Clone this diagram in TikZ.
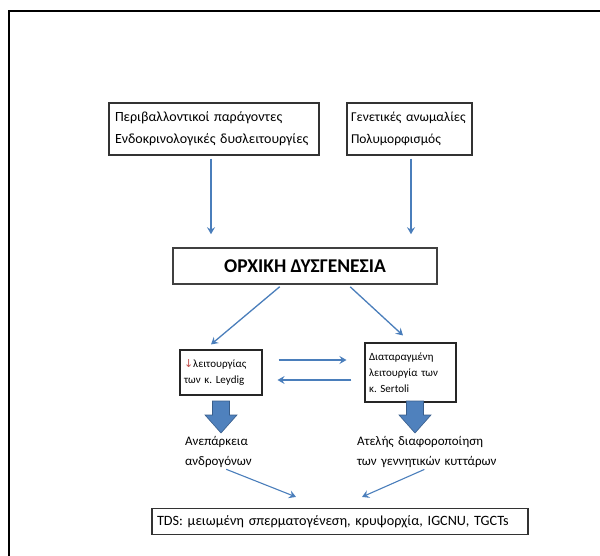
\documentclass[tikz,border=0pt]{standalone}
\usepackage{fontspec}
\setmainfont{Carlito}
\newfontfamily\symfont{DejaVu Sans}
\usetikzlibrary{arrows.meta}
\definecolor{officeblue}{RGB}{74,126,187}
\definecolor{arrowfill}{RGB}{79,129,189}
\definecolor{arrowedge}{RGB}{56,93,138}
\definecolor{downred}{RGB}{192,80,77}
\frenchspacing

\begin{document}
\begin{tikzpicture}[x=1pt, y=-1pt, >={Stealth[length=7pt,width=8pt,inset=2.5pt]},
  textbox/.style={draw=black!80, line width=1.1pt, inner sep=6pt, align=left,
    font=\fontsize{14}{22}\selectfont},
  mainbox/.style={draw=black!75, line width=1.6pt, inner sep=4pt,
    font=\fontsize{19.5}{21}\selectfont\bfseries},
  smallbox/.style={draw=black!85, line width=1.1pt, inner sep=4pt, align=left,
    font=\fontsize{11}{16}\selectfont},
  plaintext/.style={inner sep=0pt, align=left, font=\fontsize{13}{20}\selectfont},
  flowthick/.style={->, draw=officeblue, line width=1.8pt},
  flowmid/.style={->, draw=officeblue, line width=1.3pt},
  flowthin/.style={->, draw=officeblue, line width=1.1pt},
  blockarrow/.style={fill=arrowfill, draw=arrowedge, line width=0.6pt},
  frame/.style={draw=black, line width=2.5pt}]
\useasboundingbox (0,0) rectangle (600,556);
\draw[frame] (9,556) -- (9,11) -- (600,11);
% boxes
\node[textbox, text width=198pt, minimum height=52pt] (env) at (214,129)
  {Περιβαλλοντικοί παράγοντες\\Ενδοκρινολογικές δυσλειτουργίες};
\node[textbox, inner sep=4pt, text width=117pt, minimum height=52pt,
  font=\fontsize{13.5}{22}\selectfont] (gen) at (409.5,129)
  {Γενετικές ανωμαλίες\\Πολυμορφισμός};
\node[mainbox, minimum width=264pt, minimum height=36pt] (dys) at (305,266)
  {ΟΡΧΙΚΗ ΔΥΣΓΕΝΕΣΙΑ};
\node[smallbox, text width=74pt, minimum height=45pt] (ley) at (221,372.5)
  {{\symfont\color{downred}↓}λειτουργίας\\των κ. Leydig};
\node[smallbox, text width=83pt, minimum height=59pt] (ser) at (410.5,372.5)
  {Διαταραγμένη\\λειτουργία των\\κ. Sertoli};
\node[plaintext, text width=75pt] (andr) at (222.5,452)
  {Ανεπάρκεια\\ανδρογόνων};
\node[plaintext, text width=140pt] (germ) at (427,452)
  {Ατελής διαφοροποίηση\\των γεννητικών κυττάρων};
\node[textbox, text width=366pt, minimum height=26pt, inner sep=5pt,
  font=\fontsize{14.2}{16}\selectfont] (tds) at (340,521.5)
  {TDS: μειωμένη σπερματογένεση, κρυψορχία, IGCNU, TGCTs};
% arrows
\draw[flowthick, shorten <=3pt, shorten >=13pt] ([xshift=-3pt]env.south) -- ([xshift=-3pt]env.south |- dys.north);
\draw[flowthick, shorten <=3pt, shorten >=13pt] ([xshift=1.5pt]gen.south) -- ([xshift=1.5pt]gen.south |- dys.north);
\draw[flowmid, shorten <=3pt] ([xshift=-23pt]dys.south) -- ([xshift=-10pt,yshift=5pt]ley.north);
\draw[flowmid, shorten <=3pt] ([xshift=43pt]dys.south) -- ([xshift=-7.5pt,yshift=7pt]ser.north);
\draw[flowmid, shorten <=16pt, shorten >=18pt] ([yshift=12.5pt]ley.east) -- ([yshift=12.5pt]ley.east -| ser.west);
\draw[flowmid, shorten <=13pt, shorten >=15pt] ([yshift=-7.5pt]ser.west) -- ([yshift=-7.5pt]ser.west -| ley.east);
\foreach \x in {221,415}
  \filldraw[blockarrow, shift={(\x,401)}] (-8.5,0) -- (8.5,0) -- (8.5,14) -- (16,14)
    -- (0,32) -- (-16,14) -- (-8.5,14) -- cycle;
\draw[flowthin, shorten <=4pt] (andr.south) -- ([xshift=-44pt,yshift=11pt]tds.north);
\draw[flowthin, shorten <=4pt] ([xshift=1pt]germ.south) -- ([xshift=22pt,yshift=11pt]tds.north);
\end{tikzpicture}
\end{document}
